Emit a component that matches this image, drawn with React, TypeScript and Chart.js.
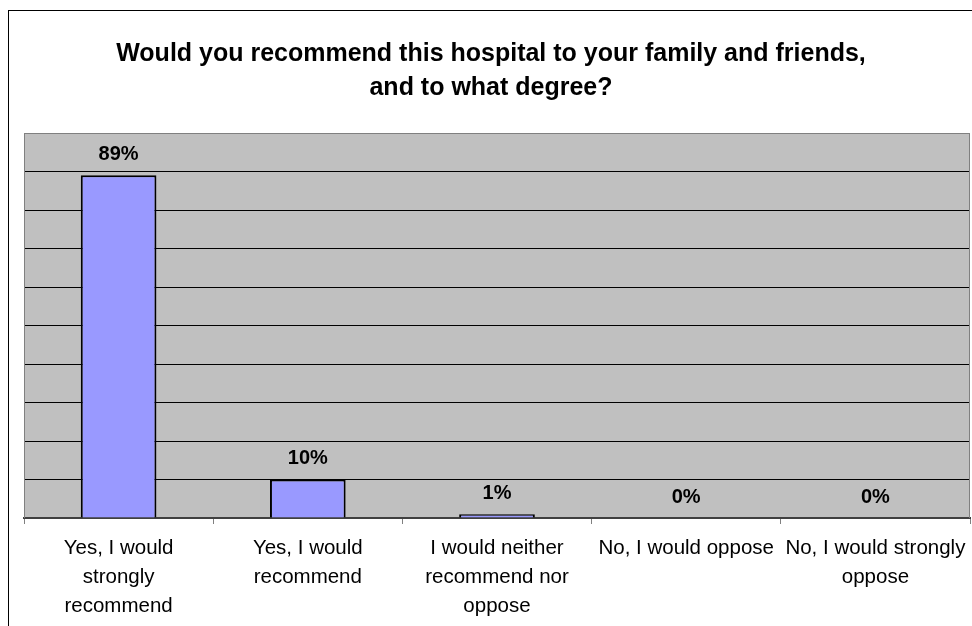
import React, { useEffect, useRef } from "react";
import { Chart, registerables } from "chart.js";

Chart.register(...registerables);

const categories: string[][] = [
  ["Yes, I would", "strongly", "recommend"],
  ["Yes, I would", "recommend"],
  ["I would neither", "recommend nor", "oppose"],
  ["No, I would oppose"],
  ["No, I would strongly", "oppose"],
];
const values: number[] = [89, 10, 1, 0, 0];
const titleLines: string[] = [
  "Would you recommend this hospital to your family and friends,",
  "and to what degree?",
];
const yMin = 0;
const yMax = 100;
const yStep = 10;

const FONT = "'Liberation Sans', Arial, Helvetica, sans-serif";

const plotBgPlugin = {
  id: "plotBg",
  beforeDraw(chart: any) {
    const { ctx, chartArea } = chart;
    ctx.save();
    ctx.fillStyle = "#C0C0C0";
    ctx.fillRect(chartArea.left, chartArea.top, chartArea.right - chartArea.left, chartArea.bottom - chartArea.top);
    ctx.restore();
  },
  beforeDatasetsDraw(chart: any) {
    const { ctx, chartArea } = chart;
    ctx.save();
    ctx.strokeStyle = "#808080";
    ctx.lineWidth = 1;
    ctx.beginPath();
    ctx.moveTo(chartArea.left + 0.5, chartArea.bottom);
    ctx.lineTo(chartArea.left + 0.5, chartArea.top + 0.5);
    ctx.lineTo(chartArea.right - 0.5, chartArea.top + 0.5);
    ctx.lineTo(chartArea.right - 0.5, chartArea.bottom);
    ctx.stroke();
    ctx.restore();
  },
};

const valueLabelPlugin = {
  id: "valueLabels",
  afterDatasetsDraw(chart: any) {
    const { ctx } = chart;
    const meta = chart.getDatasetMeta(0);
    ctx.save();
    ctx.font = `bold 20px ${FONT}`;
    ctx.fillStyle = "#000";
    ctx.textAlign = "center";
    ctx.textBaseline = "middle";
    meta.data.forEach((bar: any, i: number) => {
      const v = chart.data.datasets[0].data[i];
      ctx.fillText(`${v}%`, bar.x, bar.y - 21);
    });
    ctx.restore();
  },
};

export default function App() {
  const canvasRef = useRef<HTMLCanvasElement | null>(null);

  useEffect(() => {
    if (!canvasRef.current) return;
    const chart = new Chart(canvasRef.current, {
      type: "bar",
      data: {
        labels: categories,
        datasets: [
          {
            data: values,
            backgroundColor: "#9999FF",
            borderColor: "#000000",
            borderWidth: 2,
            categoryPercentage: 0.4,
            barPercentage: 1,
          },
        ],
      },
      options: {
        animation: false,
        responsive: false,
        maintainAspectRatio: false,
        layout: { padding: { left: 12, right: 2, top: 0, bottom: 0 } },
        plugins: {
          legend: { display: false },
          tooltip: { enabled: false },
          title: {
            display: true,
            text: titleLines,
            color: "#000",
            font: { family: FONT, size: 25, weight: "bold", lineHeight: 34 / 25 },
            padding: { top: 37, bottom: 28 },
          },
        },
        scales: {
          x: {
            offset: true,
            grid: {
              offset: true,
              drawOnChartArea: false,
              drawTicks: true,
              tickLength: 6,
              color: "#808080",
            },
            border: { display: true, color: "#404040", width: 2 },
            ticks: {
              color: "#000",
              font: { family: FONT, size: 20.5, lineHeight: 29 / 20.5 },
              padding: 10,
              maxRotation: 0,
              minRotation: 0,
              autoSkip: false,
            },
            afterFit(scale: any) {
              scale.height = 108;
              scale.paddingLeft = 0;
              scale.paddingRight = 0;
            },
          },
          y: {
            min: yMin,
            max: yMax,
            ticks: { display: false, stepSize: yStep },
            grid: {
              drawTicks: false,
              color: (c: any) => (c.tick && c.tick.value === yMax ? "#808080" : "#000000"),
              lineWidth: 1,
            },
            border: { display: false },
            afterFit(scale: any) {
              scale.width = 12;
              scale.paddingTop = 0;
              scale.paddingBottom = 0;
            },
          },
        },
      },
      plugins: [plotBgPlugin, valueLabelPlugin],
    });
    return () => chart.destroy();
  }, []);

  return (
    <div style={{ position: "absolute", left: 0, top: 0, width: 972, height: 626, overflow: "hidden", background: "#fff" }}>
      <canvas ref={canvasRef} width={972} height={626} style={{ position: "absolute", left: 0, top: 0, width: 972, height: 626 }} />
      <div
        style={{
          position: "absolute",
          left: 8,
          top: 10,
          right: 0,
          bottom: 0,
          borderLeft: "1px solid #000",
          borderTop: "1px solid #000",
          pointerEvents: "none",
        }}
      />
    </div>
  );
}
